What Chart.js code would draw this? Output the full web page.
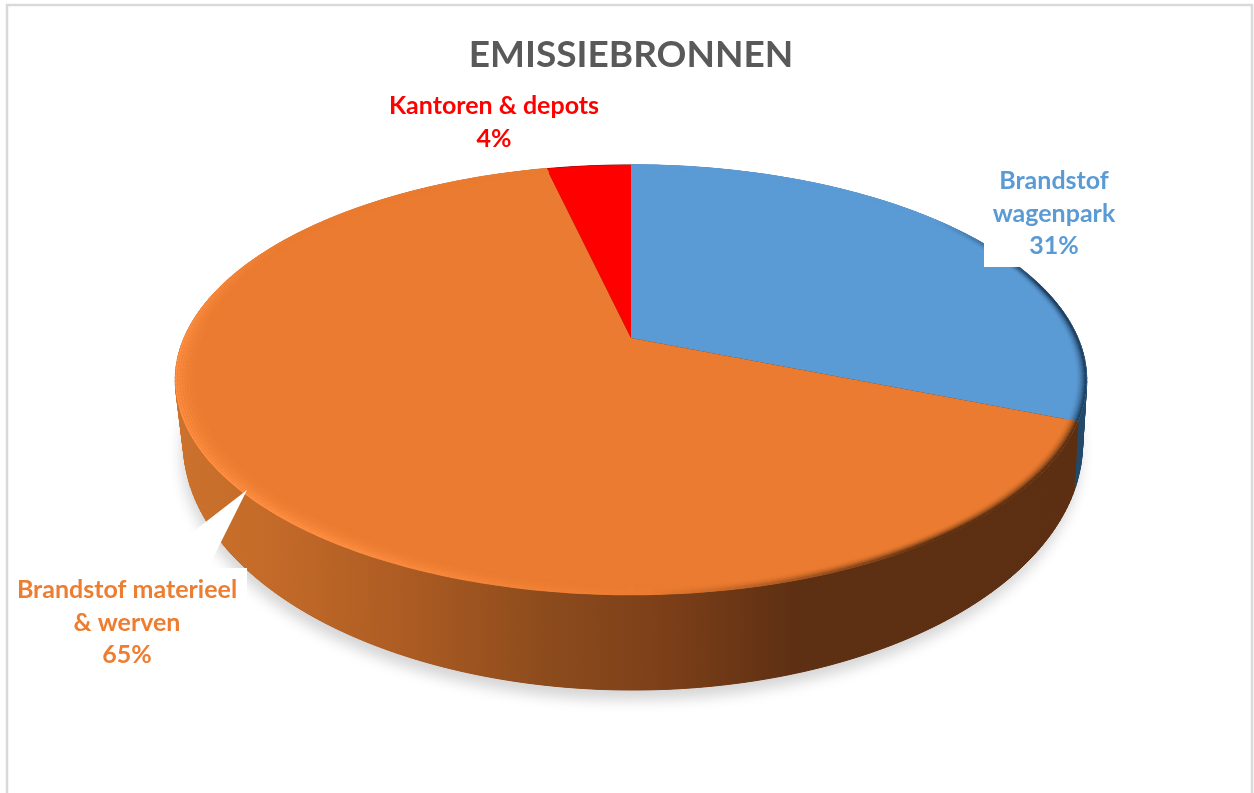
<!DOCTYPE html>
<html>
<head>
<meta charset="utf-8">
<title>Emissiebronnen</title>
<script src="https://cdn.jsdelivr.net/npm/chart.js@4/dist/chart.umd.js"></script>
<style>
  html, body { margin: 0; padding: 0; background: #fff; overflow: hidden; }
  canvas { display: block; }
</style>
</head>
<body>
<canvas id="pie" width="1254" height="793"></canvas>
<script>
const categories = ['Brandstof wagenpark', 'Brandstof materieel & werven', 'Kantoren & depots'];
const shares = [31.1, 65.3, 3.6];
const labelLines = [['Brandstof', 'wagenpark'], ['Brandstof materieel', '& werven'], ['Kantoren & depots']];
const sliceColors = ['#5b9bd5', '#ea7b30', '#ff0000'];
const wallColors = ['#234a6b', null, '#8a0000'];

const FONT = 'Lato, "Open Sans", sans-serif';
const K = 0.195; // perspective of the disc

// unit circle to screen, top face and bottom face of the disc
function topPt(a, r) {
  const u = Math.cos(a) * r, v = Math.sin(a) * r, w = 1 - K * v;
  return [631 + 447 * u / w, 338 + 206.8 * v / w];
}
function bottomPt(a, r) {
  const u = Math.cos(a) * r, v = Math.sin(a) * r, w = 1 - K * v;
  return [633 + 441 * u / w, 395 + 237.5 * v / w];
}

function hex(c) {
  return [1, 3, 5].map(i => parseInt(c.substr(i, 2), 16));
}
function mix(a, b, t) {
  const x = hex(a), y = hex(b);
  return 'rgb(' + x.map((n, i) => Math.round(n + (y[i] - n) * t)).join(',') + ')';
}
function ramp(x, a, b) {
  return Math.max(0, Math.min(1, (x - a) / (b - a)));
}

function rimPath(ctx, fn, a1, a2, steps) {
  for (let i = 0; i <= steps; i++) {
    const p = fn(a1 + (a2 - a1) * i / steps, 1);
    ctx.lineTo(p[0], p[1]);
  }
}

function drawWalls(ctx, arcs) {
  // soft shadow under the disc
  ctx.save();
  ctx.shadowColor = 'rgba(0,0,0,0.17)';
  ctx.shadowBlur = 14;
  ctx.shadowOffsetY = 10;
  ctx.shadowOffsetX = -2;
  ctx.fillStyle = '#5c3012';
  ctx.beginPath();
  rimPath(ctx, bottomPt, 0, Math.PI * 2, 180);
  ctx.closePath();
  ctx.fill();
  ctx.restore();

  const grad = ctx.createLinearGradient(175, 0, 1085, 0);
  grad.addColorStop(0, '#cc722d');
  grad.addColorStop(0.1, '#c46b29');
  grad.addColorStop(0.25, '#ad5c23');
  grad.addColorStop(0.4, '#8e4c1d');
  grad.addColorStop(0.55, '#7a3e18');
  grad.addColorStop(0.68, '#5e3013');
  grad.addColorStop(1, '#5c2f12');

  arcs.forEach((arc, i) => {
    const fill = wallColors[i] || grad;
    ctx.fillStyle = fill;
    ctx.strokeStyle = fill;
    ctx.lineWidth = 1;
    const steps = Math.ceil((arc.endAngle - arc.startAngle) * 60);
    for (let s = 0; s < steps; s++) {
      const a = arc.startAngle + (arc.endAngle - arc.startAngle) * s / steps;
      const b = arc.startAngle + (arc.endAngle - arc.startAngle) * (s + 1) / steps;
      ctx.beginPath();
      [topPt(a, 1), topPt(b, 1), bottomPt(b, 1), bottomPt(a, 1)].forEach(p => ctx.lineTo(p[0], p[1]));
      ctx.closePath();
      ctx.fill();
      ctx.stroke();
    }
  });
}

function drawFaces(ctx, arcs) {
  arcs.forEach((arc, i) => {
    ctx.fillStyle = sliceColors[i];
    ctx.beginPath();
    const c = topPt(0, 0);
    ctx.moveTo(c[0], c[1]);
    rimPath(ctx, topPt, arc.startAngle, arc.endAngle, 160);
    ctx.closePath();
    ctx.fill();
  });
}

// rounded edge of the disc, light on the left and dark on the right
function bevelAmount(i, deg) {
  if (i === 0) return -ramp(deg, -40, -15);
  if (i === 1) return ramp(deg, 88, 125) * (1 - ramp(deg, 178, 212)) - (1 - ramp(deg, 55, 88));
  return 0;
}
function drawBevel(ctx, arcs) {
  const rings = 10;
  ctx.lineWidth = 2;
  arcs.forEach((arc, i) => {
    if (i === 2) return;
    const dark = i === 0 ? '#1f4060' : '#5c3012';
    const light = i === 0 ? sliceColors[0] : '#ff8f42';
    const steps = Math.ceil((arc.endAngle - arc.startAngle) * 60);
    for (let n = rings; n >= 1; n--) {
      const t = (rings - n + 1) / rings;
      for (let s = 0; s < steps; s++) {
        const a = arc.startAngle + (arc.endAngle - arc.startAngle) * s / steps;
        const b = arc.startAngle + (arc.endAngle - arc.startAngle) * (s + 1) / steps;
        const amt = bevelAmount(i, (a + b) / 2 * 180 / Math.PI);
        // the dark side is a thin band, the light side a wider one
        const band = 0.0022 + 0.0022 * Math.max(0, amt) + (i === 1 && amt >= 0 ? 0.0008 : 0);
        const r = 0.998 - (n - 1) * band;
        ctx.strokeStyle = mix(sliceColors[i], amt < 0 ? dark : light, Math.abs(amt) * t * t);
        const p = topPt(a, r), q = topPt(b, r);
        ctx.beginPath();
        ctx.moveTo(p[0], p[1]);
        ctx.lineTo(q[0], q[1]);
        ctx.stroke();
      }
    }
  });
}

// white label boxes and the leader wedge that cut into the pie
function drawCallouts(ctx) {
  ctx.fillStyle = '#fff';
  ctx.fillRect(984, 165, 150, 102);
  ctx.fillRect(9, 568, 238, 112);
  ctx.beginPath();
  ctx.moveTo(247, 490);
  ctx.lineTo(172, 548);
  ctx.lineTo(206, 572);
  ctx.closePath();
  ctx.fill();
}

const labelSpots = [[1054, 181], [127, 590], [494, 106]];

function drawLabels(ctx) {
  ctx.font = 'bold 25px ' + FONT;
  ctx.textAlign = 'center';
  ctx.textBaseline = 'middle';
  categories.forEach((c, i) => {
    ctx.fillStyle = i === 1 ? '#ed7d31' : sliceColors[i];
    const lines = labelLines[i].concat([Math.round(shares[i]) + '%']);
    lines.forEach((l, n) => ctx.fillText(l, labelSpots[i][0], labelSpots[i][1] + n * 32.6));
  });
}

const disc3d = {
  id: 'disc3d',
  beforeDraw(chart) {
    const ctx = chart.ctx;
    ctx.save();
    ctx.fillStyle = '#fff';
    ctx.fillRect(0, 0, chart.width, chart.height);
    ctx.strokeStyle = '#d9d9d9';
    ctx.lineWidth = 2.5;
    ctx.strokeRect(7, 5, 1245, 820);
    ctx.restore();
  },
  beforeDatasetDraw(chart, args) {
    const ctx = chart.ctx;
    const arcs = args.meta.data;
    ctx.save();
    drawWalls(ctx, arcs);
    drawFaces(ctx, arcs);
    drawBevel(ctx, arcs);
    drawCallouts(ctx);
    drawLabels(ctx);
    ctx.restore();
    return false;
  }
};

new Chart(document.getElementById('pie'), {
  type: 'pie',
  data: {
    labels: categories,
    datasets: [{
      data: shares,
      backgroundColor: sliceColors,
      borderWidth: 0
    }]
  },
  options: {
    responsive: false,
    animation: false,
    layout: { padding: { left: 8 } },
    plugins: {
      legend: { display: false },
      tooltip: { enabled: false },
      title: {
        display: true,
        fullSize: false,
        text: 'EMISSIEBRONNEN',
        color: '#595959',
        font: { family: FONT, size: 37, weight: 'bold' },
        padding: { top: 33, bottom: 10 }
      }
    }
  },
  plugins: [disc3d]
});
</script>
</body>
</html>
